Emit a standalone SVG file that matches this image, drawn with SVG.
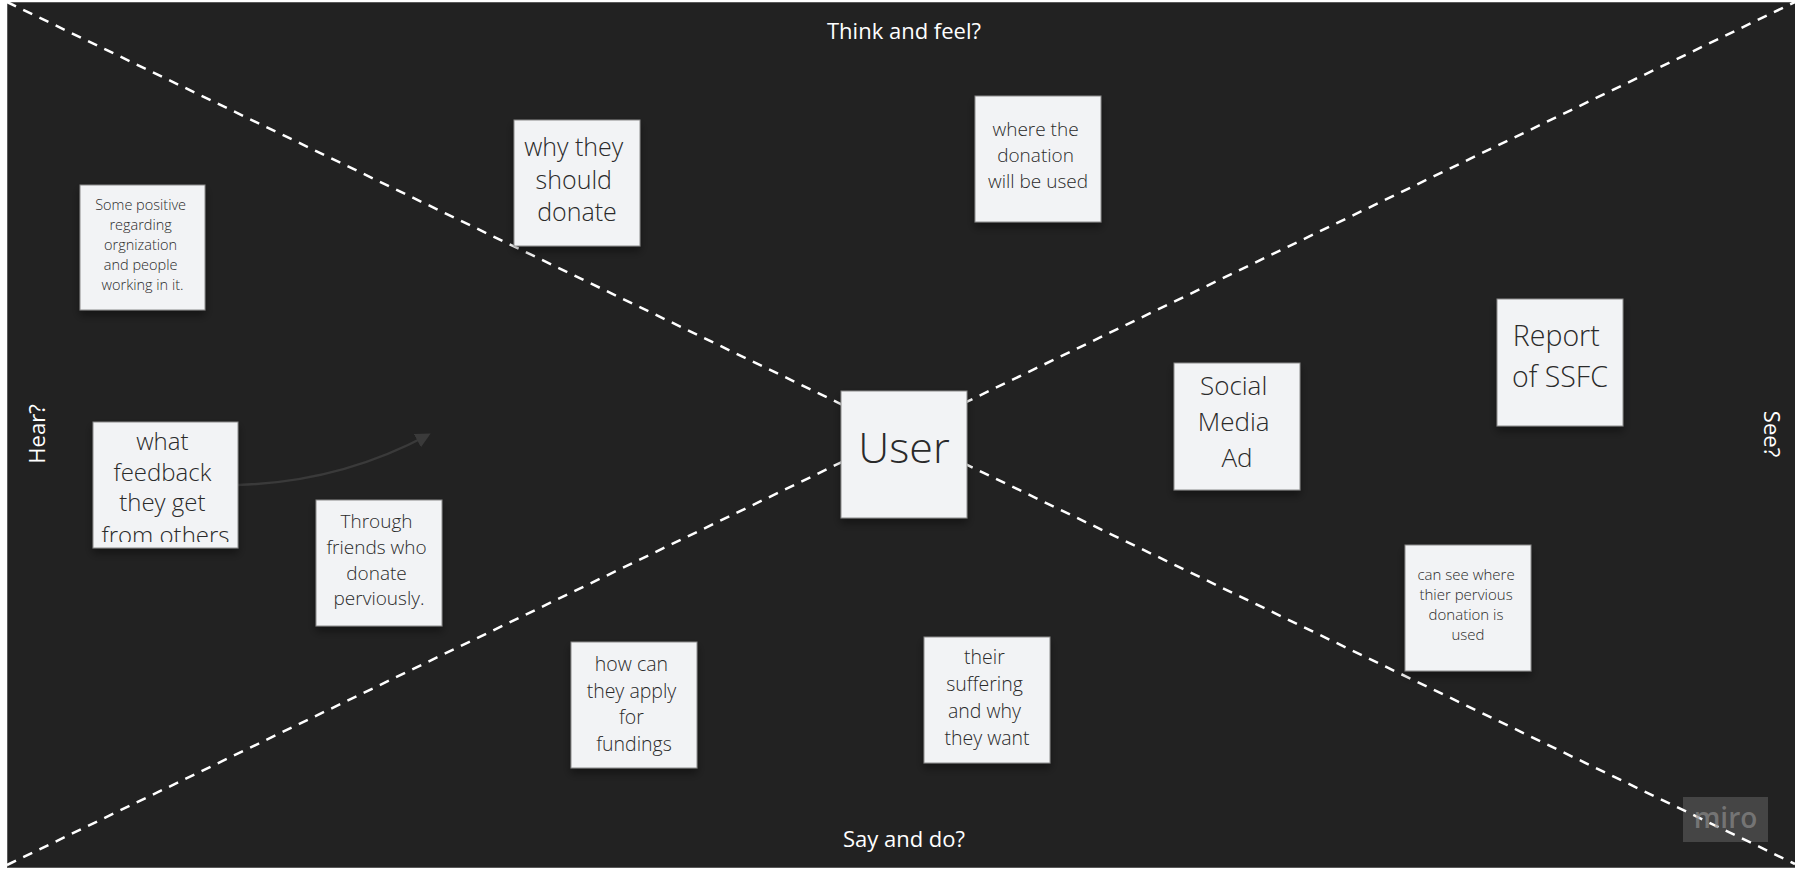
<svg xmlns="http://www.w3.org/2000/svg" width="1795" height="870" viewBox="0 0 1795 870">
  <defs>
    <style>
      .note rect.bg { fill: #f2f3f5; stroke: #8a8a8a; stroke-width: 1; }
      .note text { font-family: "Open Sans", "Noto Sans", "Liberation Sans", sans-serif; font-weight: 350; fill: #2a2a2a; text-anchor: middle; }
      .label { font-family: "Open Sans", "Noto Sans", "Liberation Sans", sans-serif; fill: #ffffff; font-size: 22px; text-anchor: middle; }
      .divider { stroke: #ffffff; stroke-width: 2.5; stroke-dasharray: 10 8; fill: none; }
      .conn { stroke: #3a3a3a; stroke-width: 2.5; fill: none; }
    </style>
    <filter id="shadow" x="-20%" y="-20%" width="140%" height="150%">
      <feDropShadow dx="0" dy="5" stdDeviation="4" flood-color="#000000" flood-opacity="0.4"/>
    </filter>
    <marker id="arrow" viewBox="0 0 10 10" refX="8" refY="5" markerWidth="6" markerHeight="6" markerUnits="strokeWidth" orient="auto">
      <path d="M0,0 L10,5 L0,10 z" fill="#3a3a3a"/>
    </marker>
    <clipPath id="clipFeedback">
      <rect x="93" y="422" width="145" height="120"/>
    </clipPath>
  </defs>

  <rect x="0" y="0" width="1795" height="870" fill="#ffffff"/>
  <rect id="board" x="7.5" y="2.5" width="1790" height="865" fill="#222222" stroke="#5a5a5a" stroke-width="1"/>

  <g id="dividers">
    <line class="divider" x1="7" y1="2" x2="1795" y2="864"/>
    <line class="divider" x1="7" y1="865" x2="1795" y2="2"/>
  </g>

  <g id="labels">
    <text class="label" x="904" y="39">Think and feel?</text>
    <text class="label" x="904" y="847">Say and do?</text>
    <text class="label" transform="translate(45,434) rotate(-90)" x="0" y="0">Hear?</text>
    <text class="label" transform="translate(1764,434) rotate(90)" x="0" y="0">See?</text>
  </g>

  <g id="connectors">
    <path class="conn" d="M238,485 Q340,482 428,435" marker-end="url(#arrow)"/>
  </g>

  <g id="note-some-positive" class="note">
    <rect class="bg" x="80" y="185" width="125" height="125" filter="url(#shadow)"/>
    <text font-size="14.5">
      <tspan x="142.5" y="210">Some positive</tspan>
      <tspan x="142.5" y="230">regarding</tspan>
      <tspan x="142.5" y="250">orgnization</tspan>
      <tspan x="142.5" y="270">and people</tspan>
      <tspan x="142.5" y="290">working in it.</tspan>
    </text>
  </g>

  <g id="note-why-donate" class="note">
    <rect class="bg" x="514" y="120" width="126" height="126" filter="url(#shadow)"/>
    <text font-size="25">
      <tspan x="577" y="156">why they</tspan>
      <tspan x="577" y="189">should</tspan>
      <tspan x="577" y="221">donate</tspan>
    </text>
  </g>

  <g id="note-where-used" class="note">
    <rect class="bg" x="975" y="96" width="126" height="126" filter="url(#shadow)"/>
    <text font-size="19">
      <tspan x="1038" y="136">where the</tspan>
      <tspan x="1038" y="162">donation</tspan>
      <tspan x="1038" y="188">will be used</tspan>
    </text>
  </g>

  <g id="note-feedback" class="note">
    <rect class="bg" x="93" y="422" width="145" height="126" filter="url(#shadow)"/>
    <text font-size="24" clip-path="url(#clipFeedback)">
      <tspan x="165.5" y="450">what</tspan>
      <tspan x="165.5" y="481">feedback</tspan>
      <tspan x="165.5" y="511">they get</tspan>
      <tspan x="165.5" y="544">from others</tspan>
    </text>
  </g>

  <g id="note-through-friends" class="note">
    <rect class="bg" x="316" y="500" width="126" height="126" filter="url(#shadow)"/>
    <text font-size="19">
      <tspan x="379" y="528">Through</tspan>
      <tspan x="379" y="554">friends who</tspan>
      <tspan x="379" y="580">donate</tspan>
      <tspan x="379" y="605">perviously.</tspan>
    </text>
  </g>

  <g id="note-user" class="note">
    <rect class="bg" x="841" y="391" width="126" height="127" filter="url(#shadow)"/>
    <text font-size="43">
      <tspan x="904" y="463">User</tspan>
    </text>
  </g>

  <g id="note-social-media" class="note">
    <rect class="bg" x="1174" y="363" width="126" height="127" filter="url(#shadow)"/>
    <text font-size="26">
      <tspan x="1237" y="395">Social</tspan>
      <tspan x="1237" y="431">Media</tspan>
      <tspan x="1237" y="467">Ad</tspan>
    </text>
  </g>

  <g id="note-report" class="note">
    <rect class="bg" x="1497" y="299" width="126" height="127" filter="url(#shadow)"/>
    <text font-size="28.5">
      <tspan x="1560" y="346">Report</tspan>
      <tspan x="1560" y="387">of SSFC</tspan>
    </text>
  </g>

  <g id="note-can-see" class="note">
    <rect class="bg" x="1405" y="545" width="126" height="126" filter="url(#shadow)"/>
    <text font-size="15">
      <tspan x="1468" y="580">can see where</tspan>
      <tspan x="1468" y="600">thier pervious</tspan>
      <tspan x="1468" y="620">donation is</tspan>
      <tspan x="1468" y="640">used</tspan>
    </text>
  </g>

  <g id="note-how-apply" class="note">
    <rect class="bg" x="571" y="642" width="126" height="126" filter="url(#shadow)"/>
    <text font-size="19.5">
      <tspan x="634" y="671">how can</tspan>
      <tspan x="634" y="698">they apply</tspan>
      <tspan x="634" y="724">for</tspan>
      <tspan x="634" y="751">fundings</tspan>
    </text>
  </g>

  <g id="note-suffering" class="note">
    <rect class="bg" x="924" y="637" width="126" height="126" filter="url(#shadow)"/>
    <text font-size="19.5">
      <tspan x="987" y="664">their</tspan>
      <tspan x="987" y="691">suffering</tspan>
      <tspan x="987" y="718">and why</tspan>
      <tspan x="987" y="745">they want</tspan>
    </text>
  </g>

  <g id="watermark">
    <rect x="1683" y="797" width="85" height="45" fill="#ffffff" fill-opacity="0.16"/>
    <text x="1725.5" y="828" font-family="Open Sans, Noto Sans, Liberation Sans, sans-serif" font-size="28" font-weight="600" fill="#8a8a8a" fill-opacity="0.7" text-anchor="middle">miro</text>
  </g>
</svg>
